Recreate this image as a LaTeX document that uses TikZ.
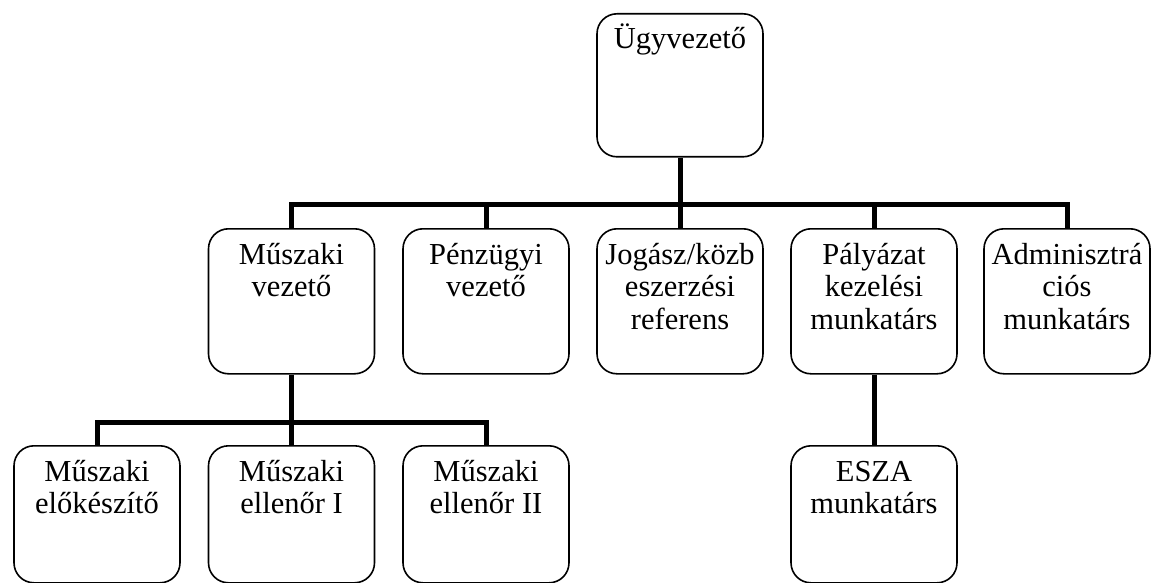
\documentclass[tikz,border=0pt]{standalone}
\usepackage{fontspec}
\setmainfont{Liberation Serif}
\usetikzlibrary{calc}
\tikzset{
  box/.style={draw=black, line width=1.6pt, rounded corners=20pt, minimum width=166pt, inner sep=0pt, anchor=north},
  midbox/.style={box, minimum height=145pt},
  botbox/.style={box, minimum height=137pt},
  lbl/.style={anchor=base, inner sep=0pt, font=\fontsize{30.5}{32.5}\selectfont},
  bus/.style={line width=5pt, line join=miter},
}
\newcommand{\boxtext}[1]{\parbox[t]{166pt}{\centering #1}}
\begin{document}
\begin{tikzpicture}[x=1pt, y=-1pt]
\useasboundingbox (0,0) rectangle (1151,583);
% top
\node[box, minimum height=143pt] (u) at (680,13) {};
% middle row
\node[midbox] (mv) at (291.5,228) {};
\node[midbox] (pv) at (486,228) {};
\node[midbox] (jo) at (680,228) {};
\node[midbox] (pa) at (874,228) {};
\node[midbox] (ad) at (1067,228) {};
% bottom row
\node[botbox] (me) at (97,445) {};
\node[botbox] (m1) at (291.5,445) {};
\node[botbox] (m2) at (486,445) {};
\node[botbox] (es) at (874,445) {};
% labels
\node[lbl] (tu) at ($(u.north)+(0,36)$) {\boxtext{Ügyvezető}};
\node[lbl] (tmv) at ($(mv.north)+(0,36)$) {\boxtext{Műszaki\\vezető}};
\node[lbl] (tpv) at ($(pv.north)+(0,36)$) {\boxtext{Pénzügyi\\vezető}};
\node[lbl] (tjo) at ($(jo.north)+(0,36)$) {\boxtext{Jogász/közb\\eszerzési\\referens}};
\node[lbl] (tpa) at ($(pa.north)+(0,36)$) {\boxtext{Pályázat\\kezelési\\munkatárs}};
\node[lbl] (tad) at ($(ad.north)+(0,36)$) {\boxtext{Adminisztrá\\ciós\\munkatárs}};
\node[lbl] (tme) at ($(me.north)+(0,36)$) {\boxtext{Műszaki\\előkészítő}};
\node[lbl] (tm1) at ($(m1.north)+(0,36)$) {\boxtext{Műszaki\\ellenőr I}};
\node[lbl] (tm2) at ($(m2.north)+(0,36)$) {\boxtext{Műszaki\\ellenőr II}};
\node[lbl] (tes) at ($(es.north)+(0,36)$) {\boxtext{ESZA\\munkatárs}};
% connectors
\coordinate (bus) at (0,204);
\coordinate (bustwo) at (0,422);
\draw[bus] (u.south) -- (jo.north);
\draw[bus] (mv.north) -- (mv.north |- bus) -- (ad.north |- bus) -- (ad.north);
\draw[bus] (pv.north) -- (pv.north |- bus);
\draw[bus] (pa.north) -- (pa.north |- bus);
\draw[bus] (mv.south) -- (m1.north);
\draw[bus] (me.north) -- (me.north |- bustwo) -- (m2.north |- bustwo) -- (m2.north);
\draw[bus] (pa.south) -- (es.north);
\end{tikzpicture}
\end{document}
